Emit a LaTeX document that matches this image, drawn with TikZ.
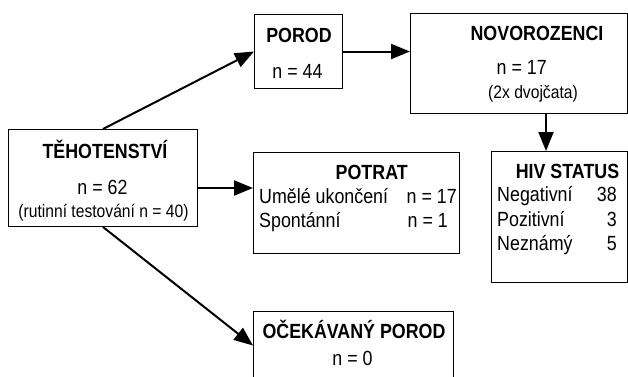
\documentclass[tikz,border=0pt]{standalone}
\usepackage{fontspec}
\setmainfont{Liberation Sans}[FakeStretch=0.87]
\usetikzlibrary{arrows.meta,calc}
\begin{document}
\begin{tikzpicture}[x=1pt,y=-1pt,
 box/.style={draw, line width=1pt, rectangle, anchor=north west, inner sep=0pt},
 arr/.style={line width=2pt, -{Triangle[length=19pt,width=15pt]}},
 hd/.style={font=\fontsize{20.5}{24}\selectfont\bfseries, inner sep=0pt, anchor=base},
 tx/.style={font=\fontsize{20.5}{24}\selectfont, inner sep=0pt, anchor=base},
 sm/.style={font=\fontsize{18}{21}\selectfont, inner sep=0pt, anchor=base}]
\useasboundingbox (0,0) rectangle (628,376);
% boxes
\node[box, minimum width=189pt, minimum height=97pt] (teh) at (8,129) {};
\node[box, minimum width=88pt, minimum height=74pt] (porod) at (254,14) {};
\node[box, minimum width=216.5pt, minimum height=100pt] (novo) at (410,13) {};
\node[box, minimum width=206pt, minimum height=101pt] (potrat) at (253,151.5) {};
\node[box, minimum width=135.5pt, minimum height=130.5pt] (hiv) at (491,151) {};
\node[box, minimum width=200pt, minimum height=68pt] (ocek) at (253,311) {};
% texts
\node[hd] (t1) at (105,158) {TĚHOTENSTVÍ};
\node[tx] (t2) at (102.5,194) {n = 62};
\node[sm] (t3) at (103.5,217) {(rutinní testování n = 40)};
\node[hd] (p1) at (299,42) {POROD};
\node[tx] (p2) at (297.5,78) {n = 44};
\node[hd] (n1) at (537,40) {NOVOROZENCI};
\node[tx] (n2) at (521.7,74) {n = 17};
\node[sm] (n3) at (533,98) {(2x dvojčata)};
\node[hd] (pt1) at (371.7,179) {POTRAT};
\node[tx, anchor=base west] (pt2) at (259,203) {Umělé ukončení};
\node[tx, anchor=base east] (pt3) at (457,203) {n = 17};
\node[tx, anchor=base west] (pt4) at (259,227) {Spontánní};
\node[tx, anchor=base east] (pt5) at (448,227) {n = 1};
\node[hd] (h1) at (567.5,178.5) {HIV STATUS};
\node[tx, anchor=base west] (h2) at (497,201.5) {Negativní};
\node[tx, anchor=base east] (h3) at (617,201.5) {38};
\node[tx, anchor=base west] (h4) at (497,226) {Pozitivní};
\node[tx, anchor=base east] (h5) at (617,226) {3};
\node[tx, anchor=base west] (h6) at (497,250) {Neznámý};
\node[tx, anchor=base east] (h7) at (617,250) {5};
\node[hd] (o1) at (354,338.5) {OČEKÁVANÝ POROD};
\node[tx] (o2) at (352.5,365) {n = 0};
% connectors
\coordinate (ya) at (0,188);
\coordinate (xb) at (546,0);
\draw[arr] (teh.north) -- (porod.west);
\draw[arr] (teh.east |- ya) -- (potrat.west |- ya);
\draw[arr] (teh.south) -- (ocek.west);
\draw[arr] (porod.east) -- (novo.west |- porod.east);
\draw[arr] (novo.south -| xb) -- (hiv.north -| xb);
\end{tikzpicture}
\end{document}
